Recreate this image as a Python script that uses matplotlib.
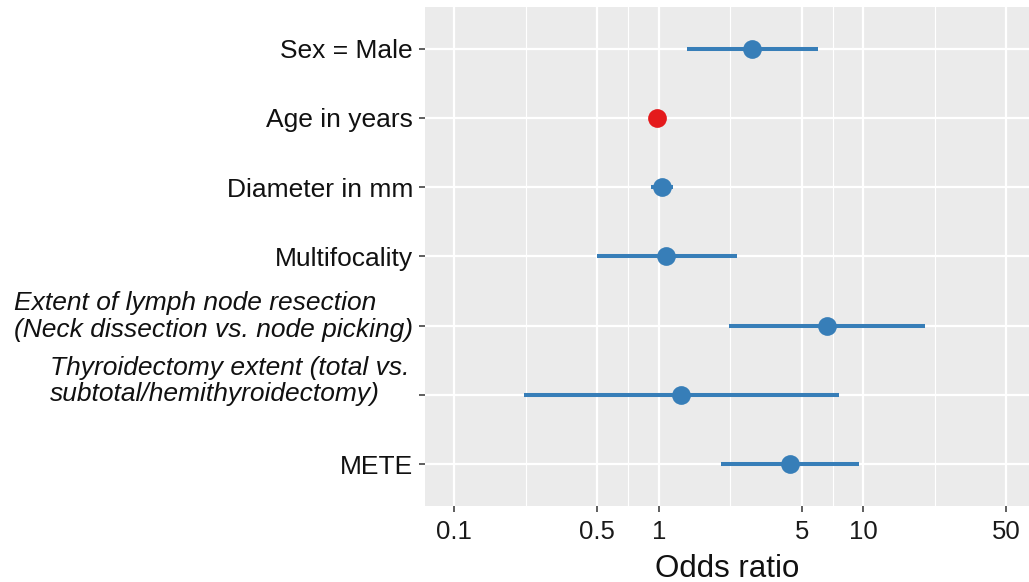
import numpy as np
import matplotlib
matplotlib.use("Agg")
import matplotlib.pyplot as plt
from matplotlib.transforms import ScaledTranslation

plt.rcParams['font.family'] = ['Liberation Sans', 'DejaVu Sans']

# ---- data ----
labels = [
    "Sex = Male",
    "Age in years",
    "Diameter in mm",
    "Multifocality",
    "Extent of lymph node resection\n(Neck dissection vs. node picking)",
    "Thyroidectomy extent (total vs.\nsubtotal/hemithyroidectomy)",
    "METE",
]
odds = [2.84, 0.98, 1.04, 1.09, 6.63, 1.29, 4.36]
ci_low = [1.37, 0.96, 0.92, 0.50, 2.21, 0.22, 2.02]
ci_high = [5.98, 1.00, 1.18, 2.41, 19.96, 7.59, 9.48]
colors = ["#377EB8", "#E41A1C", "#377EB8", "#377EB8", "#377EB8", "#377EB8", "#377EB8"]
italic = [False, False, False, False, True, True, False]
x_breaks = [0.1, 0.5, 1, 5, 10, 50]
x_break_labels = ["0.1", "0.5", "1", "5", "10", "50"]

fig = plt.figure(figsize=(10.29, 5.82), dpi=100)
ax = fig.add_axes([425/1029, 76/582, (1029-425)/1029, (506-7)/582])
ax.set_facecolor("#EBEBEB")

n = len(labels)
ypos = np.arange(n, 0, -1)

ax.set_xscale("log")
ax.set_xlim(0.0720, 64.5)
ax.set_ylim(0.4, n + 0.6)

# grid
lb = np.log10(x_breaks)
minor = 10 ** ((lb[:-1] + lb[1:]) / 2)
ax.set_xticks(x_breaks)
ax.set_xticklabels(x_break_labels)
ax.set_xticks(minor, minor=True)
ax.set_xticklabels([], minor=True)
ax.set_yticks(ypos)
ax.set_yticklabels(labels)
ax.grid(which="major", color="white", linewidth=1.6)
ax.grid(which="minor", axis="x", color="white", linewidth=0.8)
ax.set_axisbelow(True)
for s in ax.spines.values():
    s.set_visible(False)

for i in range(n):
    ax.plot([ci_low[i], ci_high[i]], [ypos[i], ypos[i]], color=colors[i], lw=2.9,
            solid_capstyle="butt", zorder=3)
    ax.plot(odds[i], ypos[i], "o", color=colors[i], markersize=13.5, zorder=4,
            markeredgewidth=0)

ax.tick_params(axis="both", which="major", color="#333333", length=4.2, width=1.1)
ax.tick_params(axis="x", which="minor", length=0)
ax.tick_params(axis="x", labelsize=18.5, labelcolor="#1a1a1a", pad=5.8)
ax.tick_params(axis="y", labelsize=19, labelcolor="#111111", pad=4.5)

ax.set_xlabel("Odds ratio", fontsize=22.5, color="#111111", labelpad=7)

offsets = {4: (0, 13), 5: (-3, 18)}
for i, lbl in enumerate(ax.get_yticklabels()):
    if italic[i]:
        lbl.set_style("italic")
        lbl.set_multialignment("left")
        lbl.set_linespacing(1.15)
        dx, dy = offsets[i]
        lbl.set_transform(lbl.get_transform() + ScaledTranslation(dx/100, dy/100, fig.dpi_scale_trans))

fig.savefig("out.png", dpi=100)
